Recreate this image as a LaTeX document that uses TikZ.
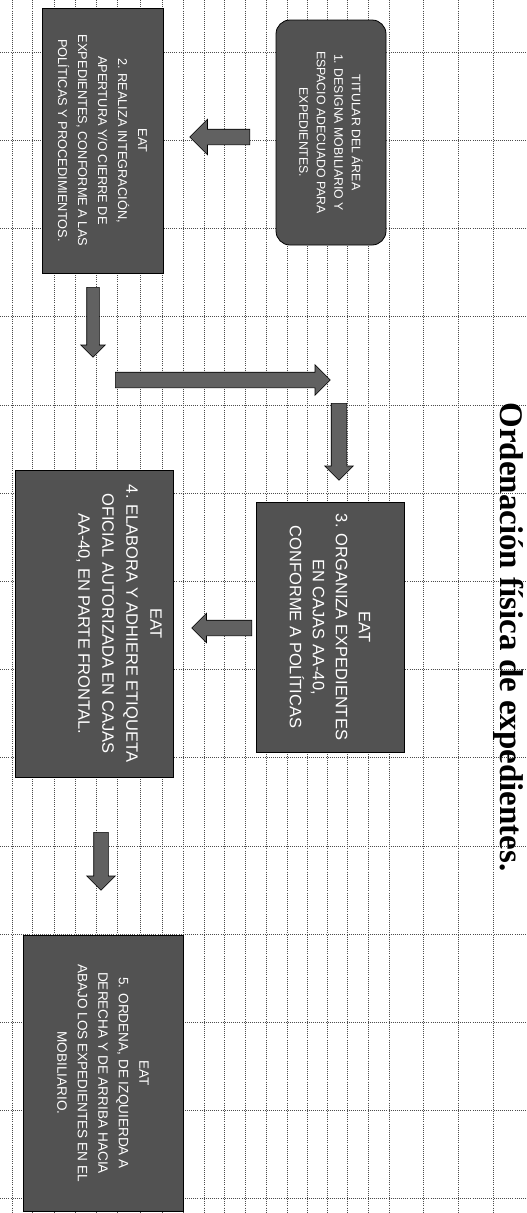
\documentclass[tikz,border=0pt]{standalone}
\usepackage{fontspec}
\setmainfont{Liberation Serif}
\newfontfamily\boxfont{Liberation Sans}
\usetikzlibrary{shapes.arrows}
\tikzset{
  gridline/.style={black!70, line width=0.5pt, dash pattern=on 0.8pt off 1.3pt},
  stepbox/.style={draw=black, line width=0.8pt, fill=black!68, text=white, align=center, inner sep=0pt},
  boxtext/.style={text=white, align=center, inner sep=0pt},
  blockarrow/.style={single arrow, draw=black, fill=black!62, line width=0.6pt,
     inner xsep=0pt, minimum width=0pt, single arrow head indent=0pt, anchor=tail}
}
\begin{document}
\begin{tikzpicture}[x=1pt,y=1pt]
\begin{scope}[rotate=-90, transform shape]
\path[use as bounding box, fill=white] (0,0) rectangle (1213,527);
% grid
\foreach \k in {0,...,13} \draw[gridline] ({52+88.2*\k},0) -- ({52+88.2*\k},527);
\foreach \v in {12,32,54,75,96,117,140,162,183,204,224,245,266,287,307,327,347,368,389,423,458,493}
  \draw[gridline] (0,\v) -- (1213,\v);
% title
\node[font=\bfseries\fontsize{33}{36}\selectfont, inner sep=0pt] (title) at (637,509) {Ordenación física de expedientes.};
% boxes
\node[stepbox, rounded corners=14pt, minimum width=225pt, minimum height=110pt,
      font=\boxfont\fontsize{12.3}{17.5}\selectfont] (b1) at (132.5,331)
  {TITULAR DEL ÁREA\\1. DESIGNA MOBILIARIO Y\\ESPACIO ADECUADO PARA\\EXPEDIENTES.};
\node[stepbox, minimum width=265pt, minimum height=121pt,
      font=\boxfont\fontsize{12.8}{20}\selectfont] (b2) at (140.5,102.5)
  {EAT\\2. REALIZA INTEGRACIÓN,\\APERTURA Y/O CIERRE DE\\EXPEDIENTES, CONFORME A LAS\\POLÍTICAS Y PROCEDIMIENTOS.};
\node[stepbox, minimum width=250pt, minimum height=148pt,
      font=\boxfont\fontsize{16.5}{23}\selectfont] (b3) at (627,330)
  {EAT\\3. ORGANIZA EXPEDIENTES\\EN CAJAS AA-40,\\CONFORME A POLÍTICAS};
\node[stepbox, minimum width=307pt, minimum height=158pt] (b4) at (623.5,94) {};
\node[boxtext, anchor=north, font=\boxfont\fontsize{16.5}{24}\selectfont] (b4t) at (623.5,162)
  {EAT\\4. ELABORA Y ADHIERE ETIQUETA\\OFICIAL AUTORIZADA EN CAJAS\\AA-40, EN PARTE FRONTAL.};
\node[stepbox, minimum width=276pt, minimum height=160pt,
      font=\boxfont\fontsize{13.6}{20.5}\selectfont] (b5) at (1073,103)
  {EAT\\5. ORDENA, DE IZQUIERDA A\\DERECHA Y DE ARRIBA HACIA\\ABAJO LOS EXPEDIENTES EN EL\\MOBILIARIO.};
% arrows
\node[blockarrow, rotate=-90, minimum height=60pt, inner ysep=7.5pt, single arrow head extend=10pt] (a1) at (137,250) {};
\node[blockarrow, minimum height=70pt, inner ysep=6pt, single arrow head extend=6pt] (a2) at (287,93) {};
\node[blockarrow, rotate=90, minimum height=215pt, inner ysep=7.5pt, single arrow head extend=7.5pt] (a3) at (380,115) {};
\node[blockarrow, minimum height=77pt, inner ysep=7.5pt, single arrow head extend=6.5pt] (a4) at (403,339) {};
\node[blockarrow, rotate=-90, minimum height=60pt, inner ysep=7.5pt, single arrow head extend=7pt] (a5) at (628,252) {};
\node[blockarrow, minimum height=58pt, inner ysep=7pt, single arrow head extend=7pt] (a6) at (832,101) {};
\end{scope}
\end{tikzpicture}
\end{document}
